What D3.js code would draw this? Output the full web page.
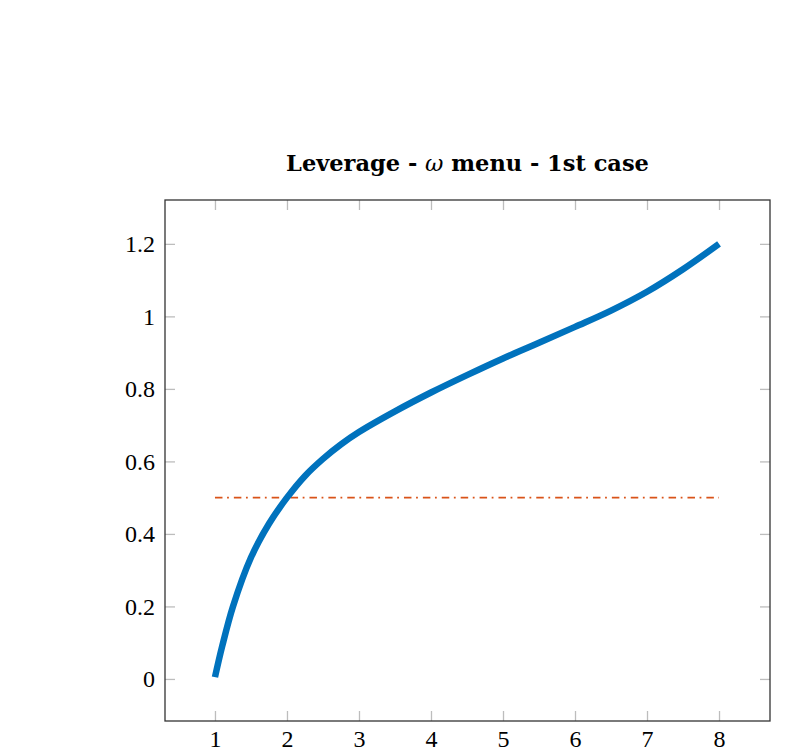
<!DOCTYPE html>
<html lang="en"><head>
<meta charset="utf-8"/>
<title>Leverage - omega menu - 1st case</title>
<script src="https://d3js.org/d3.v7.min.js"></script>
<style>
    body { margin: 0; padding: 0; background: #fff; width: 799px; height: 754px; overflow: hidden; }
    svg text { font-family: 'Liberation Serif', 'DejaVu Serif', serif; fill: #000; }
</style>
</head>
<body>
<div id="chart"></div>
<script>
    // Data
    const omegaX = [1, 1.1, 1.25, 1.5, 1.75, 2, 2.25, 2.5, 2.75, 3, 3.5, 4, 4.5, 5, 5.5, 6, 6.5, 7, 7.5, 8];
    const leverage = [0.005, 0.09, 0.2, 0.335, 0.428, 0.5, 0.56, 0.607, 0.647, 0.681, 0.738, 0.79, 0.838, 0.884, 0.927, 0.971, 1.016, 1.068, 1.13, 1.2];
    const refX = [1, 8];
    const refY = [0.5, 0.5];
    const xTicks = [1, 2, 3, 4, 5, 6, 7, 8];
    const yTicks = [0, 0.2, 0.4, 0.6, 0.8, 1, 1.2];

    const W = 799, H = 754;
    const margin = { top: 200, right: 29, bottom: 33, left: 165 };
    const width = W - margin.left - margin.right;
    const height = H - margin.top - margin.bottom;

    const svg = d3.select("#chart").append("svg")
        .attr("width", W)
        .attr("height", H);

    const g = svg.append("g")
        .attr("transform", `translate(${margin.left},${margin.top})`);

    const x = d3.scaleLinear().domain([0.306, 8.708]).range([0, width]);
    const y = d3.scaleLinear().domain([-0.116, 1.321]).range([height, 0]);

    const tickColor = "#bdbdbd";
    const tickLen = 10;

    // bottom axis (labels) + inward ticks
    const xAxis = g.append("g")
        .attr("transform", `translate(0,${height})`)
        .call(d3.axisBottom(x).tickValues(xTicks).tickFormat(d3.format("d")).tickSize(-tickLen));
    xAxis.select(".domain").remove();
    xAxis.selectAll("line").attr("stroke", tickColor).attr("stroke-width", 1.3);
    xAxis.selectAll("text")
        .style("font-size", "24px")
        .attr("y", 26)
        .attr("dy", 0);

    // top ticks
    const xTop = g.append("g")
        .call(d3.axisTop(x).tickValues(xTicks).tickSize(-tickLen).tickFormat(""));
    xTop.select(".domain").remove();
    xTop.selectAll("line").attr("stroke", tickColor).attr("stroke-width", 1.3);

    // left axis
    const yAxis = g.append("g")
        .call(d3.axisLeft(y).tickValues(yTicks).tickFormat(d => d3.format("")(d)).tickSize(-tickLen).tickPadding(10));
    yAxis.select(".domain").remove();
    yAxis.selectAll("line").attr("stroke", tickColor).attr("stroke-width", 1.3);
    yAxis.selectAll("text").style("font-size", "24px");

    // right ticks
    const yRight = g.append("g")
        .attr("transform", `translate(${width},0)`)
        .call(d3.axisRight(y).tickValues(yTicks).tickSize(-tickLen).tickFormat(""));
    yRight.select(".domain").remove();
    yRight.selectAll("line").attr("stroke", tickColor).attr("stroke-width", 1.3);

    // frame
    g.append("rect")
        .attr("x", 0).attr("y", 0)
        .attr("width", width).attr("height", height)
        .attr("fill", "none")
        .attr("stroke", "#333")
        .attr("stroke-width", 1.3);

    // reference line
    const refLine = d3.line().x(d => x(d[0])).y(d => y(d[1]));
    g.append("path")
        .datum(d3.zip(refX, refY))
        .attr("fill", "none")
        .attr("stroke", "#D95319")
        .attr("stroke-width", 1.6)
        .attr("stroke-dasharray", "7.5,4.6,1.8,5")
        .attr("d", refLine);

    // leverage curve
    const line = d3.line()
        .x(d => x(d[0]))
        .y(d => y(d[1]))
        .curve(d3.curveCatmullRom.alpha(0.5));
    g.append("path")
        .datum(d3.zip(omegaX, leverage))
        .attr("fill", "none")
        .attr("stroke", "#0072BD")
        .attr("stroke-width", 6.5)
        .attr("stroke-linejoin", "round")
        .attr("d", line);

    // title
    const title = svg.append("text")
        .attr("x", margin.left + width / 2)
        .attr("y", 171)
        .attr("text-anchor", "middle")
        .style("font-family", "'DejaVu Serif', serif")
        .style("font-size", "22.5px")
        .style("font-weight", "bold");
    title.append("tspan").text("Leverage - ");
    title.append("tspan").style("font-style", "italic").style("font-weight", "normal").text("ω");
    title.append("tspan").text(" menu - 1st case");
</script>
</body></html>
